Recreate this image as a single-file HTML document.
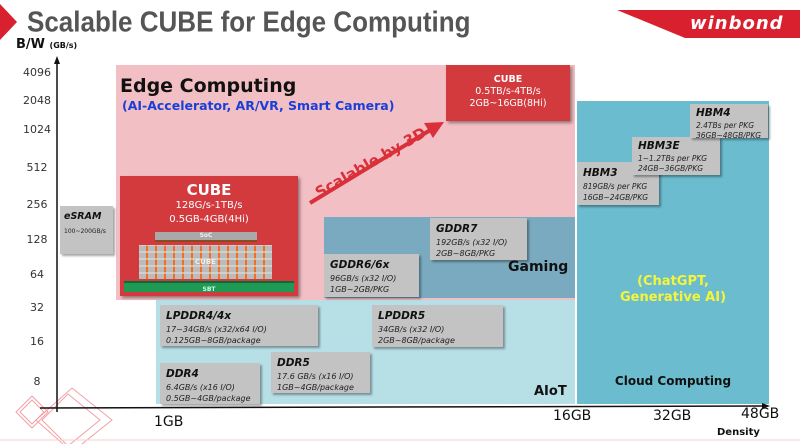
<!DOCTYPE html>
<html><head><meta charset="utf-8"><style>
*{margin:0;padding:0;box-sizing:border-box}
body{width:800px;height:444px;position:relative;overflow:hidden;background:#fff;font-family:"DejaVu Sans","Liberation Sans",sans-serif}
.a{position:absolute}
.g{position:absolute;background:#c3c3c3;box-shadow:2px 2px 2px rgba(0,0,0,.35);font-style:italic;color:#222;padding:3px 0 0 6px;line-height:11px;font-size:8px}
.g b{display:block;font-size:10.5px;line-height:16px;font-weight:bold;color:#111}
.yl{position:absolute;left:22px;width:30px;text-align:center;font-size:11px;color:#333}
.xl{position:absolute;font-size:14px;color:#111}
</style></head><body>
<svg class="a" style="left:0;top:0" width="800" height="444">
<polygon points="0,4 17,22 0,40" fill="#d9202f"/>
<polygon points="617,10 800,10 800,38 685,38" fill="#d9202f"/>
<g fill="none" stroke="#f2a0a6" stroke-width="1">
<polygon points="20,412 32,400 44,412 32,424"/><polygon points="16,412 32,396 48,412 32,428"/>
<polygon points="42,420 68,394 100,420 68,446"/><polygon points="36,420 72,388 112,420 72,452"/>
</g>
<line x1="0" y1="440" x2="800" y2="440" stroke="#f5d0d3" stroke-width="1"/>
</svg>
<div class="a" style="left:27px;top:5px;font-family:'Liberation Sans',sans-serif;font-size:26px;font-weight:bold;color:#555;transform:scaleY(1.1);transform-origin:0 0">Scalable CUBE for Edge Computing</div>
<div class="a" style="left:690px;top:13px;font-size:18px;font-weight:bold;font-style:italic;color:#fff;letter-spacing:1px">winbond</div>
<div class="a" style="left:16px;top:37px;font-size:13px;font-weight:bold;color:#111">B/W <span style="font-size:8px">(GB/s)</span></div>

<div class="a" style="left:116px;top:65px;width:459px;height:235px;background:#f2bfc4"></div>
<div class="a" style="left:156px;top:300px;width:419px;height:104px;background:#b7dfe6"></div>
<div class="a" style="left:324px;top:217px;width:251px;height:81px;background:#7aaabf"></div>
<div class="a" style="left:577px;top:101px;width:192px;height:303px;background:#6bbccf"></div>

<div class="a" style="left:120px;top:75px;font-size:19px;font-weight:bold;color:#111">Edge Computing</div>
<div class="a" style="left:122px;top:98px;font-size:12.5px;font-weight:bold;color:#1a3fd8">(AI-Accelerator, AR/VR, Smart Camera)</div>

<svg class="a" style="left:0;top:0" width="800" height="444">
<line x1="310" y1="203" x2="432" y2="129" stroke="#d9303a" stroke-width="4"/>
<polygon points="444,122 424,123 433,138" fill="#d9303a"/>
<line x1="57" y1="412" x2="57" y2="62" stroke="#111" stroke-width="1.5"/>
<polygon points="57,56 54,64 60,64" fill="#111"/>
<line x1="40" y1="408" x2="764" y2="406" stroke="#111" stroke-width="1.5"/>
<polygon points="770,406 762,403 762,409" fill="#111"/>
</svg>
<div class="a" style="left:312px;top:186px;font-size:15px;font-weight:bold;color:#d9303a;transform:rotate(-30deg);transform-origin:0 0;white-space:nowrap">Scalable by 3D</div>

<div class="a" style="left:120px;top:176px;width:178px;height:120px;background:#d23a3e;box-shadow:2px 2px 3px rgba(0,0,0,.4);color:#fff;text-align:center">
<div style="font-size:15px;font-weight:bold;margin-top:5px">CUBE</div>
<div style="font-size:10px;line-height:14px">128G/s-1TB/s<br>0.5GB-4GB(4Hi)</div></div>
<div class="a" style="left:155px;top:232px;width:102px;height:10px;background:#a9a9a9;color:#eee;font-size:6px;text-align:center;font-weight:bold;border-bottom:2px solid #8a4a20">SoC</div>
<div class="a" style="left:139px;top:245px;width:133px;height:34px;background:repeating-linear-gradient(90deg,#bbb 0,#bbb 7px,#f07020 7px,#f07020 9px);"></div>
<div class="a" style="left:139px;top:245px;width:133px;height:34px;background:repeating-linear-gradient(0deg,transparent 0,transparent 5px,rgba(220,220,220,.6) 5px,rgba(220,220,220,.6) 7px);color:#eee;font-size:7px;text-align:center;line-height:34px;font-weight:bold">CUBE</div>
<div class="a" style="left:124px;top:281px;width:170px;height:11px;background:#1e9a55;color:#cfe;font-size:6px;text-align:center;font-weight:bold;line-height:13px;border-top:2px solid #0d6a3a">SBT</div>

<div class="a" style="left:446px;top:65px;width:124px;height:56px;background:#d23a3e;box-shadow:2px 2px 3px rgba(0,0,0,.4);color:#fff;text-align:center;font-size:9.5px;line-height:12px;padding-top:9px"><b>CUBE</b><br>0.5TB/s-4TB/s<br>2GB~16GB(8Hi)</div>

<div class="g" style="left:60px;top:206px;width:53px;height:48px;padding-left:4px"><b style="font-size:9.5px">eSRAM</b><span style="font-size:6px;font-style:normal">100~200GB/s</span></div>
<div class="g" style="left:160px;top:305px;width:158px;height:41px"><b>LPDDR4/4x</b>17~34GB/s (x32/x64 I/O)<br>0.125GB~8GB/package</div>
<div class="g" style="left:160px;top:363px;width:100px;height:41px"><b>DDR4</b>6.4GB/s (x16 I/O)<br>0.5GB~4GB/package</div>
<div class="g" style="left:271px;top:352px;width:99px;height:41px"><b>DDR5</b>17.6 GB/s (x16 I/O)<br>1GB~4GB/package</div>
<div class="g" style="left:372px;top:305px;width:131px;height:42px"><b>LPDDR5</b>34GB/s (x32 I/O)<br>2GB~8GB/package</div>
<div class="g" style="left:324px;top:254px;width:95px;height:43px"><b>GDDR6/6x</b>96GB/s (x32 I/O)<br>1GB~2GB/PKG</div>
<div class="g" style="left:430px;top:218px;width:97px;height:42px"><b>GDDR7</b>192GB/s (x32 I/O)<br>2GB~8GB/PKG</div>
<div class="g" style="left:577px;top:162px;width:82px;height:43px;font-size:7.5px"><b>HBM3</b>819GB/s per PKG<br>16GB~24GB/PKG</div>
<div class="g" style="left:632px;top:137px;width:88px;height:38px;font-size:7.5px;line-height:10px;padding-top:1px"><b>HBM3E</b>1~1.2TBs per PKG<br>24GB~36GB/PKG</div>
<div class="g" style="left:690px;top:104px;width:78px;height:34px;font-size:7.5px;line-height:10px;padding-top:1px"><b>HBM4</b>2.4TBs per PKG<br>36GB~48GB/PKG</div>

<div class="a" style="left:508px;top:259px;font-size:14px;font-weight:bold;color:#111">Gaming</div>
<div class="a" style="left:534px;top:384px;font-size:13px;font-weight:bold;color:#111">AIoT</div>
<div class="a" style="left:577px;top:274px;width:192px;text-align:center;font-size:13px;font-weight:bold;color:#f5f53a;line-height:16px">(ChatGPT,<br>Generative AI)</div>
<div class="a" style="left:577px;top:374px;width:192px;text-align:center;font-size:12px;font-weight:bold;color:#111">Cloud Computing</div>

<div class="yl" style="top:66px">4096</div>
<div class="yl" style="top:94px">2048</div>
<div class="yl" style="top:123px">1024</div>
<div class="yl" style="top:161px">512</div>
<div class="yl" style="top:198px">256</div>
<div class="yl" style="top:233px">128</div>
<div class="yl" style="top:268px">64</div>
<div class="yl" style="top:301px">32</div>
<div class="yl" style="top:335px">16</div>
<div class="yl" style="top:375px">8</div>
<div class="xl" style="left:154px;top:414px">1GB</div>
<div class="xl" style="left:553px;top:408px">16GB</div>
<div class="xl" style="left:653px;top:408px">32GB</div>
<div class="xl" style="left:741px;top:406px">48GB</div>
<div class="a" style="left:717px;top:427px;font-size:10px;font-weight:bold;color:#111">Density</div>
</body></html>
